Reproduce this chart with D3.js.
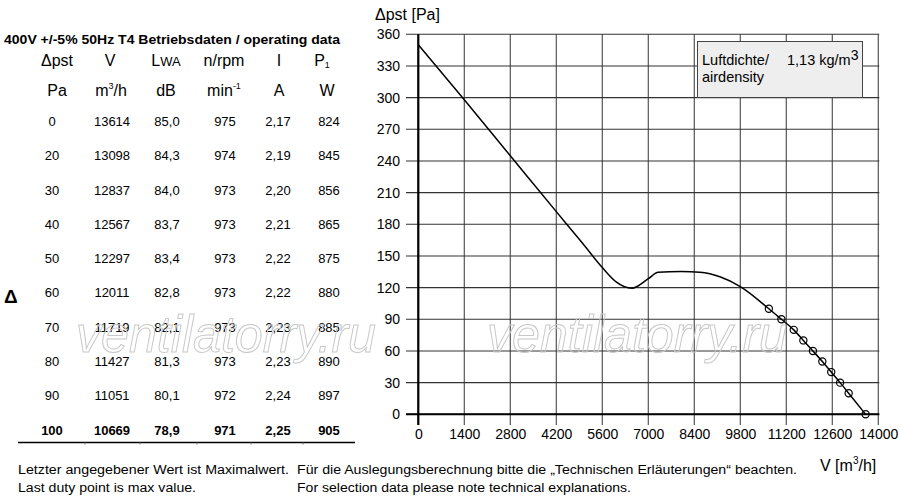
<!DOCTYPE html>
<html><head><meta charset="utf-8">
<script src="https://cdn.jsdelivr.net/npm/d3@7/dist/d3.min.js"></script>
<style>
body{margin:0;background:#fff;}
svg{display:block;font-family:"Liberation Sans",Arial,sans-serif;}
</style></head>
<body>
<svg id="c" width="900" height="500"></svg>
<script>
// ---- Data ----
const pst     = [0, 20, 30, 40, 50, 60, 70, 80, 90, 100];
const flow    = [13614, 13098, 12837, 12567, 12297, 12011, 11719, 11427, 11051, 10669];
const lwa     = ["85,0","84,3","84,0","83,7","83,4","82,8","82,1","81,3","80,1","78,9"];
const rpm     = [975, 974, 973, 973, 973, 973, 973, 973, 972, 971];
const current = ["2,17","2,19","2,20","2,21","2,22","2,22","2,23","2,23","2,24","2,25"];
const power   = [824, 845, 856, 865, 875, 880, 885, 890, 897, 905];
// fan curve above the last duty point
const curveV  = [0, 1400, 2800, 4200, 5000, 5600, 6000, 6500, 7000, 7300, 8000, 8570, 9200, 9800];
const curveP  = [350, 298, 245, 192, 162, 139, 126, 119.5, 128.5, 134.5, 135.2, 134.5, 130, 121];
const xTicks  = [0,1400,2800,4200,5600,7000,8400,9800,11200,12600,14000];
const yTicks  = [0,30,60,90,120,150,180,210,240,270,300,330,360];

const svg = d3.select("#c");

// ---- Table ----
const tbl = svg.append("g");
tbl.append("text").attr("x",4).attr("y",44).attr("font-size",12.3).attr("font-weight","bold")
  .attr("textLength",336).attr("lengthAdjust","spacingAndGlyphs")
  .text("400V +/-5% 50Hz T4 Betriebsdaten / operating data");
const colX = [52, 112, 167, 225, 278, 329];
const hdr1 = tbl.append("g").attr("font-size",16).attr("text-anchor","middle");
hdr1.append("text").attr("x",57).attr("y",66).text("Δpst");
hdr1.append("text").attr("x",110).attr("y",66).text("V");
const lw = hdr1.append("text").attr("x",166).attr("y",66);
lw.append("tspan").text("L"); lw.append("tspan").attr("font-size",13).text("WA");
hdr1.append("text").attr("x",224).attr("y",66).text("n/rpm");
hdr1.append("text").attr("x",279).attr("y",66).text("I");
const p1 = hdr1.append("text").attr("x",322).attr("y",66);
p1.append("tspan").text("P"); p1.append("tspan").attr("font-size",9).attr("dy",2).text("1");
hdr1.append("text").attr("x",57).attr("y",96).text("Pa");
const m3 = hdr1.append("text").attr("x",111).attr("y",96);
m3.append("tspan").text("m"); m3.append("tspan").attr("font-size",9).attr("dy",-7).text("3");
m3.append("tspan").attr("dy",7).text("/h");
hdr1.append("text").attr("x",166).attr("y",96).text("dB");
const mn = hdr1.append("text").attr("x",224).attr("y",96);
mn.append("tspan").text("min"); mn.append("tspan").attr("font-size",9).attr("dy",-7).text("-1");
hdr1.append("text").attr("x",279).attr("y",96).text("A");
hdr1.append("text").attr("x",327).attr("y",96).text("W");

const rowY = d3.scaleLinear().domain([0, pst.length-1]).range([121.7, 430]);
const rows = tbl.append("g").attr("font-size",13).attr("text-anchor","middle");
pst.forEach((p,i)=>{
  const g = rows.append("g").attr("transform",`translate(0,${rowY(i)+4.5})`)
    .attr("font-weight", i===pst.length-1 ? "bold" : null);
  [p, flow[i], lwa[i], rpm[i], current[i], power[i]].forEach((v,j)=>{
    g.append("text").attr("x",colX[j]).attr("y",0).text(v);
  });
});
tbl.append("line").attr("x1",18).attr("x2",355).attr("y1",442.5).attr("y2",442.5)
  .attr("stroke","#000").attr("stroke-width",1.5);
[85,140,197,251,303].forEach(x=>tbl.append("line").attr("x1",x).attr("x2",x)
  .attr("y1",442).attr("y2",444.5).attr("stroke","#555").attr("stroke-width",0.8));
tbl.append("text").attr("x",4).attr("y",303).attr("font-size",19).attr("font-weight","bold").text("Δ");

// ---- Chart ----
const x = d3.scaleLinear().domain([0,14000]).range([418.3, 878.3]);
const y = d3.scaleLinear().domain([0,360]).range([414.3, 34.3]);
const grid = svg.append("g");
xTicks.forEach(t=>grid.append("line").attr("x1",x(t)).attr("x2",x(t))
  .attr("y1",y(360)).attr("y2",425).attr("stroke","#555").attr("stroke-width",1.2));
yTicks.forEach(t=>grid.append("line").attr("x1",406).attr("x2",x(14000)+1)
  .attr("y1",y(t)).attr("y2",y(t)).attr("stroke","#333").attr("stroke-width",1.1));
// axes
svg.append("line").attr("x1",x(0)).attr("x2",x(0)).attr("y1",y(360)).attr("y2",425)
  .attr("stroke","#000").attr("stroke-width",2.2);
svg.append("line").attr("x1",406).attr("x2",x(14000)+1).attr("y1",y(0)).attr("y2",y(0))
  .attr("stroke","#000").attr("stroke-width",2);

const xAxis = d3.axisBottom(x).tickValues(xTicks).tickSize(0).tickPadding(0).tickFormat(d3.format("d"));
const ga = svg.append("g").attr("transform","translate(0,429)").call(xAxis);
ga.select(".domain").remove();
ga.selectAll("text").attr("font-size",14).attr("font-family","Liberation Sans, Arial, sans-serif").attr("fill","#000");
const yAxis = d3.axisLeft(y).tickValues(yTicks).tickSize(0).tickPadding(0).tickFormat(d3.format("d"));
const gy = svg.append("g").attr("transform","translate(400,0)").call(yAxis);
gy.select(".domain").remove();
gy.selectAll("text").attr("font-size",14).attr("font-family","Liberation Sans, Arial, sans-serif").attr("fill","#000");

// axis titles
svg.append("text").attr("x",375).attr("y",20).attr("font-size",16).text("Δpst [Pa]");
const vt = svg.append("text").attr("x",820).attr("y",471).attr("font-size",16);
vt.append("tspan").text("V [m"); vt.append("tspan").attr("font-size",10).attr("dy",-7).text("3");
vt.append("tspan").attr("dy",7).text("/h]");

// legend box
svg.append("rect").attr("x",697.5).attr("y",41.5).attr("width",165).attr("height",56)
  .attr("fill","#eeeeee").attr("stroke","#444").attr("stroke-width",1);
svg.append("text").attr("x",702).attr("y",64.5).attr("font-size",14.5).text("Luftdichte/");
const ad = svg.append("text").attr("x",787).attr("y",64.5).attr("font-size",14.5);
ad.append("tspan").text("1,13 kg/m"); ad.append("tspan").attr("font-size",14).attr("dy",-5).text("3");
svg.append("text").attr("x",702).attr("y",82).attr("font-size",14.5).text("airdensity");

// watermarks
[76, 487].forEach(px=>svg.append("text").attr("x",px).attr("y",352).attr("font-size",52)
  .attr("font-style","italic").attr("font-family","Liberation Sans, Arial, sans-serif")
  .attr("fill","none").attr("stroke","#c8c8c8").attr("stroke-width",1)
  .attr("textLength",300).attr("lengthAdjust","spacingAndGlyphs").text("ventilatorry.ru"));

// curve
const pts = curveV.map((v,i)=>[v,curveP[i]])
  .concat(flow.map((v,i)=>[v,pst[i]]).sort((a,b)=>a[0]-b[0]));
const line = d3.line().x(d=>x(d[0])).y(d=>y(d[1])).curve(d3.curveMonotoneX);
svg.append("path").datum(pts).attr("d",line).attr("fill","none").attr("stroke","#000").attr("stroke-width",1.5);
svg.append("g").selectAll("circle").data(flow).join("circle")
  .attr("cx",d=>x(d)).attr("cy",(d,i)=>y(pst[i])).attr("r",3.6)
  .attr("fill","none").attr("stroke","#000").attr("stroke-width",1.2);

// footer
const ft = svg.append("g").attr("font-size",12.5);
ft.append("text").attr("x",18).attr("y",474).attr("textLength",271).attr("lengthAdjust","spacingAndGlyphs")
  .text("Letzter angegebener Wert ist Maximalwert.");
ft.append("text").attr("x",297).attr("y",474).attr("textLength",500).attr("lengthAdjust","spacingAndGlyphs")
  .text("Für die Auslegungsberechnung bitte die „Technischen Erläuterungen“ beachten.");
ft.append("text").attr("x",18).attr("y",492).attr("textLength",178).attr("lengthAdjust","spacingAndGlyphs")
  .text("Last duty point is max value.");
ft.append("text").attr("x",297).attr("y",492).attr("textLength",334).attr("lengthAdjust","spacingAndGlyphs")
  .text("For selection data please note technical explanations.");
</script>
</body></html>
